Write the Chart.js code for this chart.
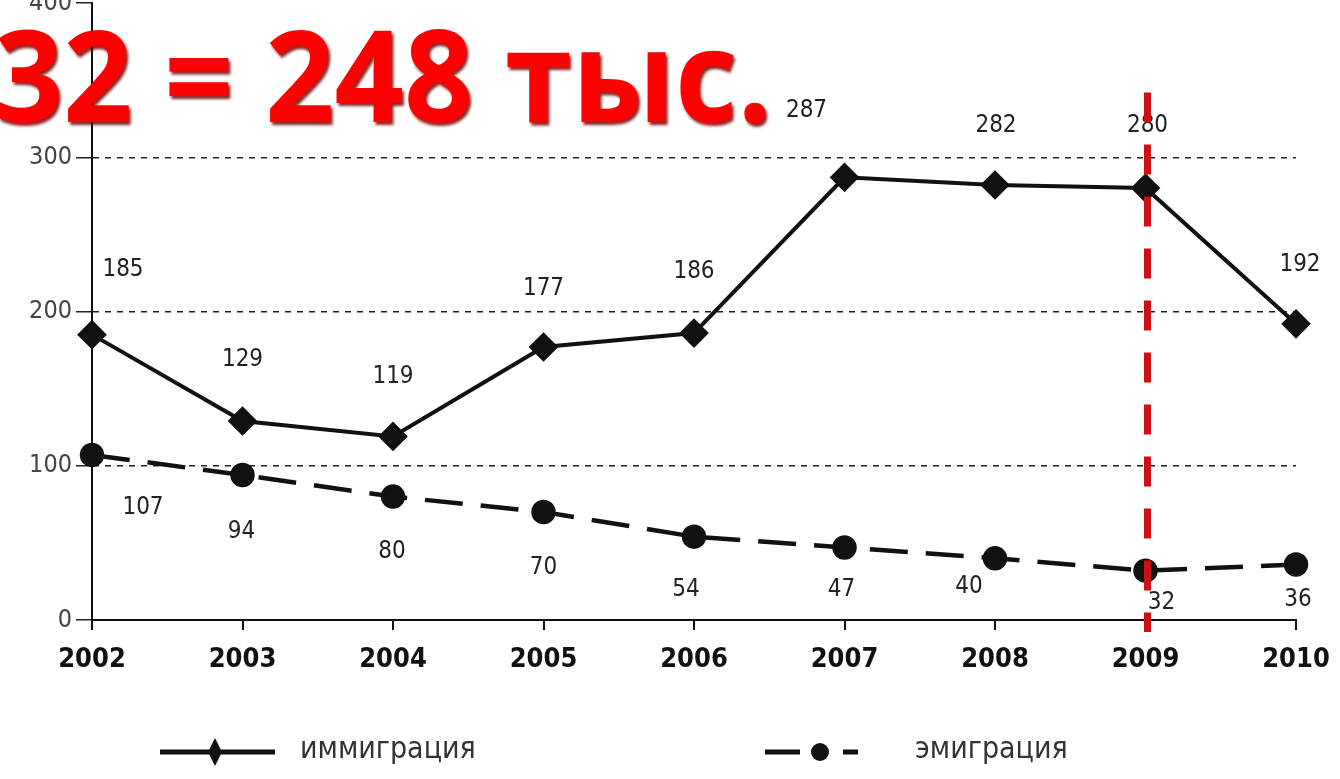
<!DOCTYPE html>
<html>
<head>
<meta charset="utf-8">
<script src="https://cdn.jsdelivr.net/npm/chart.js@4.4.0/dist/chart.umd.min.js"></script>
<style>
    html, body { margin: 0; padding: 0; background: #fff; }
    #wrap { width: 1340px; height: 779px; }
</style>
</head>
<body>
<div id="wrap"><canvas id="chart" width="1340" height="779"></canvas></div>
<script>
// ============================================================
// Data (thousands of people)
// ============================================================

const YEARS = ['2002', '2003', '2004', '2005', '2006', '2007', '2008', '2009', '2010'];
const IMMIGRATION = [185, 129, 119, 177, 186, 287, 282, 280, 192];
const EMIGRATION = [107, 94, 80, 70, 54, 47, 40, 32, 36];
const Y_TICKS = [0, 100, 200, 300, 400];
const SERIES_NAMES = ['иммиграция', 'эмиграция'];
const HEADLINE = '32 = 248 тыс.';
const MARKED_YEAR = '2009';

// label placement relative to each point (px)
const IMM_LABEL_SHIFT = [[31, -65], [0, -61], [0, -60], [0, -58], [0, -61], [-38, -67], [1, -59], [2, -62], [4, -59]];
const EMI_LABEL_SHIFT = [[51, 53], [-1, 57], [-1, 55], [0, 56], [-8, 53], [-3, 42], [-26, 28], [16, 32], [2, 35]];

const NARROW = '"DejaVu Sans Condensed", "Liberation Sans Narrow", sans-serif';

// ============================================================
// Plugins
// ============================================================

const overlayPlugin = {
    id: 'overlay',
    afterDatasetsDraw(chart) {
        const ctx = chart.ctx;
        const xs = chart.scales.x, ys = chart.scales.y;

        // value labels
        ctx.save();
        ctx.font = '24px ' + NARROW;
        ctx.fillStyle = '#222';
        ctx.textAlign = 'center';
        ctx.textBaseline = 'middle';
        IMMIGRATION.forEach(function(v, i) {
            ctx.fillText(String(v), xs.getPixelForValue(i) + IMM_LABEL_SHIFT[i][0], ys.getPixelForValue(v) + IMM_LABEL_SHIFT[i][1]);
        });
        EMIGRATION.forEach(function(v, i) {
            ctx.fillText(String(v), xs.getPixelForValue(i) + EMI_LABEL_SHIFT[i][0], ys.getPixelForValue(v) + EMI_LABEL_SHIFT[i][1]);
        });
        ctx.restore();

        // red dashed marker at 2009
        const mx = xs.getPixelForValue(YEARS.indexOf(MARKED_YEAR)) + 2;
        ctx.save();
        ctx.strokeStyle = '#cc1016';
        ctx.lineWidth = 7;
        ctx.setLineDash([30, 22]);
        ctx.beginPath();
        ctx.moveTo(mx, ys.getPixelForValue(342));
        ctx.lineTo(mx, ys.bottom + 12);
        ctx.stroke();
        ctx.restore();
    },
    afterDraw(chart) {
        const ctx = chart.ctx;

        // legend
        ctx.save();
        ctx.strokeStyle = '#111';
        ctx.fillStyle = '#111';
        ctx.lineWidth = 5;
        ctx.beginPath();
        ctx.moveTo(160, 752); ctx.lineTo(275, 752);
        ctx.stroke();
        ctx.beginPath();
        ctx.moveTo(215, 738); ctx.lineTo(222, 752); ctx.lineTo(215, 766); ctx.lineTo(208, 752);
        ctx.closePath(); ctx.fill();
        ctx.beginPath();
        ctx.moveTo(765, 752); ctx.lineTo(800, 752);
        ctx.moveTo(843, 752); ctx.lineTo(858, 752);
        ctx.stroke();
        ctx.beginPath();
        ctx.arc(820, 752, 9, 0, Math.PI * 2);
        ctx.fill();
        ctx.font = '30px ' + NARROW;
        ctx.fillStyle = '#333';
        ctx.textBaseline = 'middle';
        ctx.fillText(SERIES_NAMES[0], 300, 750);
        ctx.fillText(SERIES_NAMES[1], 915, 750);
        ctx.restore();

        // headline
        ctx.save();
        ctx.font = 'bold 128px "Open Sans", "Noto Sans", sans-serif';
        ctx.textBaseline = 'alphabetic';
        const w = ctx.measureText(HEADLINE).width;
        const sx = 778 / w;
        ctx.translate(-6, 122);
        ctx.scale(sx, 1);
        ctx.shadowColor = 'rgba(110,0,0,0.85)';
        ctx.shadowOffsetX = 2;
        ctx.shadowOffsetY = 3;
        ctx.shadowBlur = 3;
        ctx.fillStyle = '#ff0000';
        ctx.fillText(HEADLINE, 0, 0);
        ctx.restore();
    }
};

// ============================================================
// Chart
// ============================================================

new Chart(document.getElementById('chart'), {
    type: 'line',
    data: {
        labels: YEARS,
        datasets: [
            {
                label: SERIES_NAMES[0],
                data: IMMIGRATION,
                borderColor: '#111',
                borderWidth: 4,
                pointStyle: 'rectRot',
                pointRadius: 12,
                pointBackgroundColor: '#111',
                pointBorderColor: '#111',
                tension: 0
            },
            {
                label: SERIES_NAMES[1],
                data: EMIGRATION,
                borderColor: '#111',
                borderWidth: 4.5,
                borderDash: [38, 18],
                pointStyle: 'circle',
                pointRadius: 10,
                pointBackgroundColor: '#111',
                pointBorderColor: '#111',
                tension: 0
            }
        ]
    },
    options: {
        responsive: false,
        animation: false,
        layout: { autoPadding: false, padding: { left: 0, right: 44, top: 3, bottom: 0 } },
        plugins: { legend: { display: false }, tooltip: { enabled: false } },
        scales: {
            x: {
                offset: false,
                afterFit: function(scale) {
                    scale.height = 159;
                    scale.paddingLeft = 0;
                    scale.paddingRight = 0;
                },
                grid: {
                    display: true,
                    drawOnChartArea: false,
                    drawTicks: true,
                    tickLength: 10,
                    color: '#111',
                    lineWidth: 2
                },
                border: { display: true, color: '#111', width: 2 },
                ticks: {
                    color: '#111',
                    padding: 14,
                    font: { family: NARROW, size: 27, weight: 'bold' },
                    maxRotation: 0
                }
            },
            y: {
                min: 0,
                max: 400,
                afterFit: function(scale) {
                    scale.width = 92;
                    scale.paddingTop = 0;
                    scale.paddingBottom = 0;
                },
                afterBuildTicks: function(scale) {
                    scale.ticks = Y_TICKS.map(function(v) { return { value: v }; });
                },
                grid: {
                    color: function(c) {
                        const v = c.tick ? c.tick.value : 0;
                        return (v === 0 || v === 400) ? 'rgba(0,0,0,0)' : '#222';
                    },
                    lineWidth: 1.5,
                    drawTicks: true,
                    tickLength: 16,
                    tickColor: '#222'
                },
                border: { display: true, color: '#111', width: 2, dash: [6, 6] },
                ticks: {
                    color: '#444',
                    padding: 4,
                    font: { family: NARROW, size: 25 }
                }
            }
        }
    },
    plugins: [overlayPlugin]
});
</script>
</body>
</html>
